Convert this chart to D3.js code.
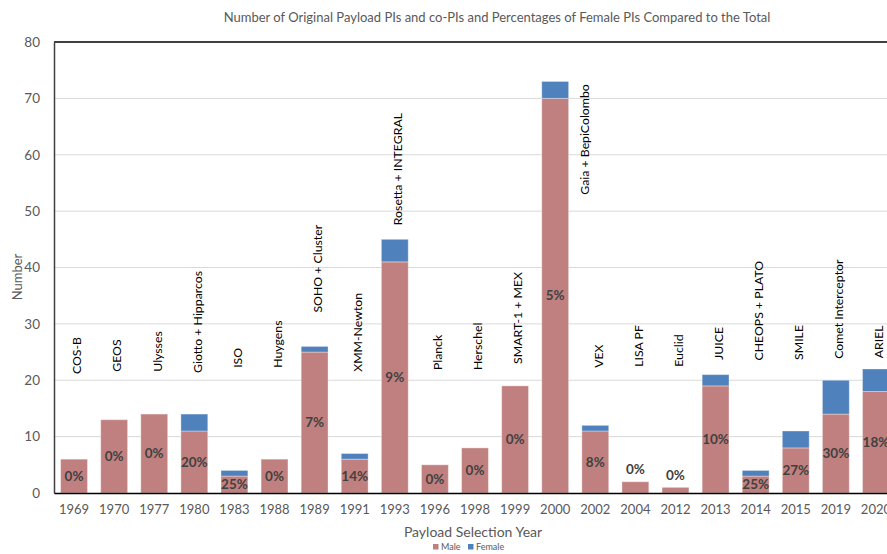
<!DOCTYPE html>
<html>
<head>
<meta charset="utf-8">
<script src="https://cdn.jsdelivr.net/npm/d3@7"></script>
<style>
  html, body { margin: 0; padding: 0; background: #fff; }
  svg { display: block; font-family: Lato, "Open Sans", sans-serif; }
</style>
</head>
<body>
<svg id="chart" width="887" height="554"></svg>
<script>
// ---- data ----
const years = ["1969","1970","1977","1980","1983","1988","1989","1991","1993","1996","1998","1999","2000","2002","2004","2012","2013","2014","2015","2019","2020"];
const missions = ["COS-B","GEOS","Ulysses","Giotto + Hipparcos","ISO","Huygens","SOHO + Cluster","XMM-Newton","Rosetta + INTEGRAL","Planck","Herschel","SMART-1 + MEX","Gaia + BepiColombo","VEX","LISA PF","Euclid","JUICE","CHEOPS + PLATO","SMILE","Comet Interceptor","ARIEL"];
const male   = [6, 13, 14, 11, 3, 6, 25, 6, 41, 5, 8, 19, 70, 11, 2, 1, 19, 3, 8, 14, 18];
const female = [0, 0, 0, 3, 1, 0, 1, 1, 4, 0, 0, 0, 3, 1, 0, 0, 2, 1, 3, 6, 4];
const pctLabels = ["0%","0%","0%","20%","25%","0%","7%","14%","9%","0%","0%","0%","5%","8%","0%","0%","10%","25%","27%","30%","18%"];
// value (in axis units) at which each mission annotation starts
const missionLabelAt = [21.1, 21.5, 21.5, 21.3, 22.2, 22.2, 32.0, 21.5, 47.5, 21.8, 21.8, 22.9, 52.9, 22.2, 22.4, 22.4, 23.6, 23.5, 23.6, 23.8, 23.9];
const yTicks = [0, 10, 20, 30, 40, 50, 60, 70, 80];
const seriesNames = ["Male", "Female"];

const colors = { Male: "#c0807f", Female: "#4f81bd" };

// ---- layout ----
const svg = d3.select("#chart");
const plot = { left: 54, right: 896, top: 42, bottom: 493 };

const x = d3.scaleBand().domain(years).range([plot.left, plot.right]).paddingInner(0.33).paddingOuter(0.165);
const y = d3.scaleLinear().domain([0, 80]).range([plot.bottom, plot.top]);

const rows = years.map((yr, i) => ({ year: yr, Male: male[i], Female: female[i], i }));
const stacked = d3.stack().keys(seriesNames)(rows);

// gridlines
svg.append("g").selectAll("line").data(yTicks.filter(t => t > 0 && t < 80)).join("line")
  .attr("x1", plot.left).attr("x2", plot.right)
  .attr("y1", d => y(d)).attr("y2", d => y(d))
  .attr("stroke", "#d9d9d9").attr("stroke-width", 1);

// top border
svg.append("line").attr("x1", plot.left).attr("x2", plot.right)
  .attr("y1", y(80)).attr("y2", y(80)).attr("stroke", "#000").attr("stroke-width", 1.3);

// bars
svg.append("g").selectAll("g").data(stacked).join("g")
  .attr("fill", d => colors[d.key])
  .selectAll("rect").data(d => d).join("rect")
  .attr("x", d => x(d.data.year))
  .attr("width", x.bandwidth())
  .attr("y", d => y(d[1]))
  .attr("height", d => Math.max(0, y(d[0]) - y(d[1])))
  .attr("stroke", "rgba(255,255,255,0.35)").attr("stroke-width", 1);

// y axis
const yAxis = d3.axisLeft(y).tickValues(yTicks).tickSize(0).tickPadding(14);
const gy = svg.append("g").attr("transform", `translate(${plot.left},0)`).call(yAxis);
gy.select(".domain").attr("stroke", "#404040").attr("stroke-width", 1.5);
gy.selectAll("text").attr("fill", "#595959").attr("font-size", 13.5).attr("font-family", "Lato, sans-serif");

// x axis
const xAxis = d3.axisBottom(x).tickSize(0).tickPadding(12);
const gx = svg.append("g").attr("transform", `translate(0,${plot.bottom})`).call(xAxis);
gx.select(".domain").attr("stroke", "#000").attr("stroke-width", 1.5);
gx.selectAll("text").attr("fill", "#595959").attr("font-size", 13).attr("font-family", "Lato, sans-serif");

// percentage labels
svg.append("g").selectAll("text").data(rows).join("text")
  .attr("x", d => x(d.year) + x.bandwidth() / 2)
  .attr("y", d => d.Male >= 3 ? y(d.Male / 2) : y(d.Male) - 12)
  .attr("dy", "0.35em")
  .attr("text-anchor", "middle")
  .attr("font-weight", "bold")
  .attr("font-size", 13.5)
  .attr("fill", "#404040")
  .text((d, i) => pctLabels[i]);

// mission labels (rotated)
svg.append("g").selectAll("text").data(rows).join("text")
  .attr("transform", d => {
    const total = d.Male + d.Female;
    const at = missionLabelAt[d.i];
    let cx = x(d.year) + x.bandwidth() / 2 + 3;
    if (at < total) cx += x.bandwidth();
    return `translate(${cx},${y(at)}) rotate(-90)`;
  })
  .attr("dy", "0.35em")
  .attr("font-size", 12.3)
  .attr("fill", "#000")
  .text(d => missions[d.i]);

// title
svg.append("text").attr("x", 497).attr("y", 22).attr("text-anchor", "middle")
  .attr("font-size", 13).attr("fill", "#595959")
  .text("Number of Original Payload PIs and co-PIs and Percentages of Female PIs Compared to the Total");

// axis titles
svg.append("text").attr("transform", `translate(22,277) rotate(-90)`).attr("text-anchor", "middle")
  .attr("font-size", 13).attr("fill", "#595959").text("Number");
svg.append("text").attr("x", 473).attr("y", 537).attr("text-anchor", "middle")
  .attr("font-size", 14).attr("fill", "#595959").text("Payload Selection Year");

// legend
const legend = svg.append("g");
const legItems = [{ name: "Male", x: 433 }, { name: "Female", x: 468 }];
legend.selectAll("rect").data(legItems).join("rect")
  .attr("x", d => d.x).attr("y", 544).attr("width", 5.5).attr("height", 5.5)
  .attr("fill", d => colors[d.name]);
legend.selectAll("text").data(legItems).join("text")
  .attr("x", d => d.x + 8).attr("y", 547).attr("dy", "0.35em")
  .attr("font-size", 9).attr("fill", "#595959").text(d => d.name);
</script>
</body>
</html>
